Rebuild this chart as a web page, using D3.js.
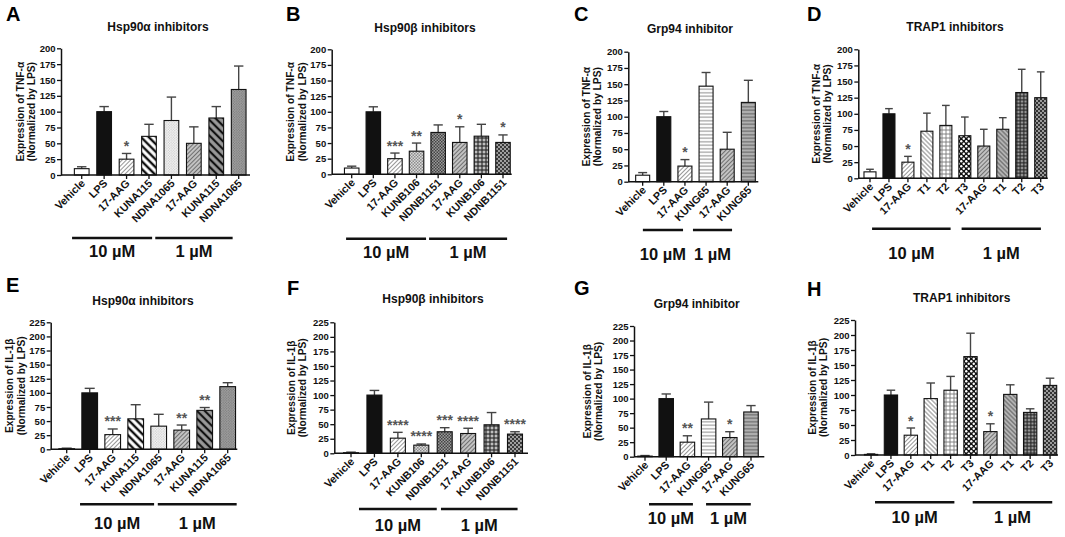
<!DOCTYPE html>
<html><head><meta charset="utf-8">
<script src="https://cdn.jsdelivr.net/npm/d3@7"></script>
<style>
html,body{margin:0;padding:0;background:#fff;}
svg{display:block;}
text{font-family:"Liberation Sans",Arial,sans-serif;}
</style></head>
<body>
<svg id="chart" width="1065" height="537"></svg>
<script>
// ---------------- DATA ----------------
const labelsHsp90a = ["Vehicle","LPS","17-AAG","KUNA115","NDNA1065","17-AAG","KUNA115","NDNA1065"];
const labelsHsp90b = ["Vehicle","LPS","17-AAG","KUNB106","NDNB1151","17-AAG","KUNB106","NDNB1151"];
const labelsGrp94  = ["Vehicle","LPS","17-AAG","KUNG65","17-AAG","KUNG65"];
const labelsTrap1  = ["Vehicle","LPS","17-AAG","T1","T2","T3","17-AAG","T1","T2","T3"];

const meanA = [10,100,25,61,86,50,90,135];
const errA  = [3,8,9,19,37,26,18,37];
const sigA  = ["","","*","","","","",""];

const meanB = [10,100,25,37,67,51,61,51];
const errB  = [3,8,9,13,12,25,19,12];
const sigB  = ["","","***","**","","*","","*"];

const meanC = [10,100,24,147,50,122];
const errC  = [4,8,10,21,26,34];
const sigC  = ["","","*","","",""];

const meanD = [10,100,25,73,82,66,50,76,133,125];
const errD  = [4,8,9,28,31,29,26,18,36,40];
const sigD  = ["","","*","","","","","","",""];

const meanE = [1,100,26,54,41,34,69,111];
const errE  = [1,8,10,25,21,9,5,7];
const sigE  = ["","","***","","","**","**",""];

const meanF = [1,100,26,14,37,34,49,33];
const errF  = [1,8,10,2,7,9,21,4];
const sigF  = ["","","****","****","***","****","","****"];

const meanG = [1,100,25,65,33,77];
const errG  = [1,8,11,29,10,11];
const sigG  = ["","","**","","*",""];

const meanH = [1,100,33,94,108,164,39,101,71,116];
const errH  = [1,8,12,26,23,39,13,16,6,12];
const sigH  = ["","","*","","","","*","","",""];

const titles = ["Hsp90α inhibitors","Hsp90β inhibitors","Grp94 inhibitor","TRAP1 inhibitors"];
const yLabelTNF = ["Expression of TNF-α","(Normalized by LPS)"];
const yLabelIL  = ["Expression of IL-1β","(Normalized by LPS)"];
const doseLabels = ["10 µM","1 µM"];
const ticksTNF = [0,25,50,75,100,125,150,175,200];
const ticksIL  = [0,25,50,75,100,125,150,175,200,225];

// ---------------- STYLES ----------------
const fillsHsp90a = ["#fff","#111","url(#diagL)","url(#stripeB)","url(#dotL)","url(#diagG)","url(#stripeG)","url(#dotG)"];
const fillsHsp90b = ["#fff","#111","url(#diagL)","url(#dotM)","url(#checkG)","url(#diagG)","url(#gridD)","url(#checkD)"];
const fillsGrp94  = ["#fff","#111","url(#diagL)","url(#hLineL)","url(#diagG)","url(#hLineG)"];
const fillsTrap1  = ["#fff","#111","url(#diagL)","url(#backL)","url(#gridL)","url(#bigDot)","url(#diagG)","url(#backG)","url(#gridG)","url(#dotD)"];

const svg = d3.select("#chart");
const defs = svg.append("defs");
function pat(id, s, bg, draw, rot){
  const p = defs.append("pattern").attr("id",id).attr("patternUnits","userSpaceOnUse")
    .attr("width",s).attr("height",s);
  if (rot) p.attr("patternTransform","rotate("+rot+")");
  p.append("rect").attr("width",s).attr("height",s).attr("fill",bg);
  draw(p, s);
}
const vline = (c,w)=>(p,s)=>p.append("line").attr("x1",s/2).attr("x2",s/2).attr("y1",-1).attr("y2",s+1).attr("stroke",c).attr("stroke-width",w);
const hline = (c,w)=>(p,s)=>p.append("line").attr("y1",s/2).attr("y2",s/2).attr("x1",-1).attr("x2",s+1).attr("stroke",c).attr("stroke-width",w);
const grid = (c,w)=>(p,s)=>{vline(c,w)(p,s);hline(c,w)(p,s);};
const dots = (c,r)=>(p,s)=>{p.append("circle").attr("cx",s/4).attr("cy",s/4).attr("r",r).attr("fill",c);
  p.append("circle").attr("cx",3*s/4).attr("cy",3*s/4).attr("r",r).attr("fill",c);};
const check = (c)=>(p,s)=>{p.append("rect").attr("width",s/2).attr("height",s/2).attr("fill",c);
  p.append("rect").attr("x",s/2).attr("y",s/2).attr("width",s/2).attr("height",s/2).attr("fill",c);};

pat("diagL",3,"#fff",vline("#8a8a8a",0.9),45);
pat("diagG",3,"#c2c2c2",vline("#666",0.9),45);
pat("stripeB",5.5,"#fff",vline("#111",2.4),-45);
pat("stripeG",5.5,"#9a9a9a",vline("#111",2.2),-45);
pat("dotL",2.6,"#f6f6f6",dots("#c0c0c0",0.6));
pat("dotG",2.6,"#a2a2a2",dots("#6e6e6e",0.6));
pat("dotM",3,"#dadada",check("#8c8c8c"));
pat("checkG",3,"#9a9a9a",check("#444"));
pat("gridD",4,"#bdbdbd",grid("#222",1.1));
pat("checkD",4,"#3a3a3a",dots("#d0d0d0",0.9));
pat("hLineL",3.5,"#fff",hline("#8a8a8a",1));
pat("hLineG",3.5,"#b0b0b0",hline("#5e5e5e",1));
pat("backL",3.2,"#fff",vline("#7a7a7a",0.9),-45);
pat("gridL",4,"#fff",grid("#777",0.9));
pat("bigDot",5,"#111",dots("#fff",1.2));
pat("backG",3.2,"#b5b5b5",vline("#555",0.9),-45);
pat("gridG",3.5,"#9a9a9a",grid("#222",1.1));
pat("dotD",4,"#333",dots("#ccc",0.9));

// ---------------- PANELS (layout) ----------------
const panels = [
 {letter:"A",lx:6,ly:21,title:titles[0],tx:158,ty:31,ax:61,ae:250,yt:48.3,yb:175,ymax:200,ticks:ticksTNF,band:[70.5,249.9],bw:14.7,yo:-41,
  labels:labelsHsp90a,mean:meanA,err:errA,sig:sigA,fills:fillsHsp90a,ylab:yLabelTNF,br:[[-0.43,3.14],[3.28,6.73]],bry:238,dy:257},
 {letter:"B",lx:286,ly:21,title:titles[1],tx:425,ty:32,ax:331.7,ae:511.7,yt:49.3,yb:174.3,ymax:200,ticks:ticksTNF,band:[340.9,513.8],bw:14.5,yo:-41,
  labels:labelsHsp90b,mean:meanB,err:errB,sig:sigB,fills:fillsHsp90b,ylab:yLabelTNF,br:[[-0.26,3.44],[3.58,7.19]],bry:238.7,dy:258},
 {letter:"C",lx:574,ly:21,title:titles[2],tx:690,ty:33,ax:628.3,ae:758.3,yt:51.7,yb:181.7,ymax:200,ticks:ticksTNF,band:[632.1,758.9],bw:14,yo:-42,
  labels:labelsGrp94,mean:meanC,err:errC,sig:sigC,fills:fillsGrp94,ylab:yLabelTNF,br:[[0.01,1.91],[2.38,4.23]],bry:230,dy:260},
 {letter:"D",lx:807,ly:21,title:titles[3],tx:955,ty:31,ax:858.3,ae:1047.7,yt:49.3,yb:178.3,ymax:200,ticks:ticksTNF,band:[860.5,1050.2],bw:12,yo:-42,
  labels:labelsTrap1,mean:meanD,err:errD,sig:sigD,fills:fillsTrap1,ylab:yLabelTNF,br:[[0.11,4.25],[4.83,9.01]],bry:228.7,dy:259},
 {letter:"E",lx:6,ly:292,title:titles[0],tx:143,ty:305,ax:50.7,ae:237.3,yt:322.3,yb:449.3,ymax:225,ticks:ticksIL,band:[55.2,239.2],bw:15.7,yo:-41,
  labels:labelsHsp90a,mean:meanE,err:errE,sig:sigE,fills:fillsHsp90a,ylab:yLabelIL,br:[[0.58,3.8],[3.96,7.39]],bry:504.3,dy:529},
 {letter:"F",lx:287,ly:295,title:titles[1],tx:433,ty:303,ax:334.3,ae:528,yt:322.3,yb:453.3,ymax:225,ticks:ticksIL,band:[339.3,526.7],bw:15,yo:-43,
  labels:labelsHsp90b,mean:meanF,err:errF,sig:sigF,fills:fillsHsp90b,ylab:yLabelIL,br:[[0.34,3.66],[3.84,7.11]],bry:509,dy:531},
 {letter:"G",lx:574,ly:295,title:titles[2],tx:696.7,ty:308,ax:634,ae:764.3,yt:326,yb:456.7,ymax:225,ticks:ticksIL,band:[634.4,761.6],bw:14.5,yo:-47,
  labels:labelsGrp94,mean:meanG,err:errG,sig:sigG,fills:fillsGrp94,ylab:yLabelIL,br:[[0.19,2.26],[2.88,4.99]],bry:504.3,dy:524},
 {letter:"H",lx:807,ly:296,title:titles[3],tx:961.7,ty:302,ax:855,ae:1058,yt:320,yb:455,ymax:225,ticks:ticksIL,band:[861.1,1060],bw:13.3,yo:-43,
  labels:labelsTrap1,mean:meanH,err:errH,sig:sigH,fills:fillsTrap1,ylab:yLabelIL,br:[[0.2,4.19],[5.11,9.11]],bry:502.3,dy:523}
];

panels.forEach(P=>{
  const g = svg.append("g");
  const n = P.labels.length;
  const step = (P.band[1]-P.band[0])/n;
  const pin = 1 - P.bw/step;
  const x = d3.scaleBand().domain(d3.range(n)).range(P.band).paddingInner(pin).paddingOuter(pin/2);
  const cx = i => x(i) + x.bandwidth()/2;
  const u = d3.scaleLinear().domain([0,n-1]).range([cx(0),cx(n-1)]);
  const y = d3.scaleLinear().domain([0,P.ymax]).range([P.yb,P.yt]);

  g.append("text").attr("x",P.lx).attr("y",P.ly).attr("font-size",20).attr("font-weight","bold").attr("fill","#000").text(P.letter);
  g.append("text").attr("x",P.tx).attr("y",P.ty).attr("text-anchor","middle").attr("font-size",12).attr("font-weight","bold").attr("fill","#111").text(P.title);

  const ym = (P.yt+P.yb)/2;
  P.ylab.forEach((t,k)=>{
    const bx = P.ax + P.yo + 3.5 + k*11.5;
    g.append("text").attr("transform",`translate(${bx},${ym}) rotate(-90)`).attr("text-anchor","middle")
      .attr("font-size",10.2).attr("font-weight","bold").attr("fill","#111").text(t);
  });

  const data = P.mean.map((m,i)=>({i,m,e:P.err[i],s:P.sig[i],f:P.fills[i],l:P.labels[i]}));
  g.selectAll(".err").data(data).enter().append("line")
    .attr("x1",d=>cx(d.i)).attr("x2",d=>cx(d.i)).attr("y1",d=>y(d.m)).attr("y2",d=>y(d.m+d.e))
    .attr("stroke","#444").attr("stroke-width",1.4);
  g.selectAll(".cap").data(data).enter().append("line")
    .attr("x1",d=>cx(d.i)-x.bandwidth()*0.32).attr("x2",d=>cx(d.i)+x.bandwidth()*0.32)
    .attr("y1",d=>y(d.m+d.e)).attr("y2",d=>y(d.m+d.e))
    .attr("stroke","#444").attr("stroke-width",1.4);
  g.selectAll(".bar").data(data).enter().append("rect")
    .attr("x",d=>x(d.i)).attr("width",x.bandwidth())
    .attr("y",d=>y(d.m)).attr("height",d=>y(0)-y(d.m))
    .attr("fill",d=>d.f).attr("stroke","#111").attr("stroke-width",1.1);
  g.selectAll(".sig").data(data.filter(d=>d.s)).enter().append("text")
    .attr("x",d=>cx(d.i)).attr("y",d=>y(d.m+d.e)-2.5).attr("text-anchor","middle")
    .attr("font-size",14).attr("font-weight","bold").attr("fill","#555").text(d=>d.s);

  const yAx = g.append("g").attr("transform",`translate(${P.ax},0)`)
    .call(d3.axisLeft(y).tickValues(P.ticks).tickSize(4).tickSizeOuter(0).tickPadding(1.5));
  yAx.select(".domain").attr("stroke","#111").attr("stroke-width",1.5);
  yAx.selectAll(".tick line").attr("stroke","#111").attr("stroke-width",1.3);
  yAx.selectAll(".tick text").attr("font-size",9.5).attr("font-weight","bold").attr("fill","#111")
    .attr("font-family",'"Liberation Sans",Arial,sans-serif');

  const xAx = g.append("g").attr("transform",`translate(0,${P.yb})`)
    .call(d3.axisBottom(x).tickSize(4).tickSizeOuter(0).tickFormat(()=>""));
  xAx.select(".domain").remove();
  xAx.selectAll(".tick line").attr("stroke","#111").attr("stroke-width",1.3);
  g.append("line").attr("x1",P.ax).attr("x2",P.ae).attr("y1",P.yb).attr("y2",P.yb).attr("stroke","#111").attr("stroke-width",1.5);

  g.selectAll(".xl").data(data).enter().append("text")
    .attr("transform",d=>`translate(${cx(d.i)+4},${P.yb+9}) rotate(-45)`)
    .attr("text-anchor","end").attr("font-size",10.8).attr("font-weight","bold").attr("fill","#111").text(d=>d.l);

  P.br.forEach((b,k)=>{
    g.append("line").attr("x1",u(b[0])).attr("x2",u(b[1])).attr("y1",P.bry).attr("y2",P.bry)
      .attr("stroke","#111").attr("stroke-width",2.5);
    g.append("text").attr("x",(u(b[0])+u(b[1]))/2).attr("y",P.dy).attr("text-anchor","middle")
      .attr("font-family","Lato, 'Open Sans', sans-serif").attr("font-size",16.5).attr("font-weight","bold")
      .attr("fill","#111").text(doseLabels[k]);
  });
});
</script>
</body></html>
